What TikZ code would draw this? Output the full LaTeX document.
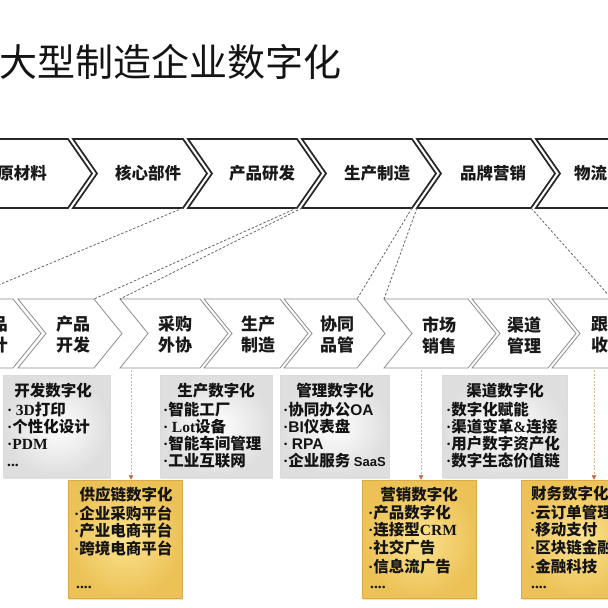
\documentclass[tikz,border=0pt]{standalone}
\usepackage{fontspec}
\usetikzlibrary{shadows,arrows.meta}
\setmainfont{Liberation Serif}
\newfontfamily\cjk{Noto Sans CJK SC}
\newfontfamily\latser{Liberation Serif}
\newfontfamily\latsans{Liberation Sans}
\newfontfamily\song{Noto Sans CJK SC}
\newcommand\lb{\latser\bfseries}
\newcommand\ls{\latsans\bfseries}
\newcommand\bul{{\latser\bfseries ·}}
\newcommand\fsz[2]{\fontsize{#1}{#2}\selectfont}
\definecolor{arrline}{HTML}{E2B48E}
\definecolor{arrhead}{HTML}{C46A40}
\definecolor{yin}{HTML}{FBE28E}
\definecolor{yout}{HTML}{ECC257}
\definecolor{yedge}{HTML}{D9AA45}
\newcommand\tchev[2]{\draw[topchev] (#1,139) -- (#2,139) -- ({#2+24},173.5) -- (#2,208) -- (#1,208) -- ({#1+24},173.5) -- cycle;}
\newcommand\bchev[2]{\draw[botchev] (#1,299) -- (#2,299) -- ({#2+28},333.5) -- (#2,368) -- (#1,368) -- ({#1+28},333.5) -- cycle;}
\begin{document}
\begin{tikzpicture}[x=1pt,y=-1pt,
  topchev/.style={draw=black!85, line width=1.7pt, fill=white, line join=miter},
  botchev/.style={draw=black!45, line width=0.8pt, fill=white, line join=miter},
  toptext/.style={font=\cjk\bfseries\fsz{16.5}{18}, text=black!90, inner sep=0pt},
  bottext/.style={font=\cjk\bfseries\fsz{17}{21}, text=black!90, align=center, inner sep=0pt},
  conn/.style={draw=black!60, line width=0.8pt, dash pattern=on 2.5pt off 1.8pt},
  darr/.style={draw=arrline, line width=0.7pt, dash pattern=on 2pt off 1.5pt,
     -{Triangle[length=4.5pt,width=4.5pt,fill=arrhead,color=arrhead]}},
  graybox/.style={draw=black!14, line width=0.4pt, inner color=white, outer color=black!13,
     drop shadow={opacity=0.22, shadow xshift=1.2pt, shadow yshift=-1.5pt}, inner sep=0pt},
  yelbox/.style={draw=yedge, line width=0.5pt, inner color=yin, outer color=yout,
     drop shadow={opacity=0.22, shadow xshift=1.2pt, shadow yshift=-1.5pt}, inner sep=0pt},
  btitle/.style={font=\song\bfseries\fsz{15.5}{17}, text=black!92, inner sep=0pt},
  bitem/.style={font=\song\bfseries\fsz{15.5}{17}, text=black!92, inner sep=0pt, anchor=west},
]
\useasboundingbox (0,0) rectangle (608,608);
\fill[white] (0,0) rectangle (608,608);
\clip (0,0) rectangle (608,608);

% title
\node[font=\cjk\fsz{38}{40}, text=black!92, anchor=west, inner sep=0pt] (title) at (-1,62) {大型制造企业数字化};

% top chevrons
\tchev{-60}{68}
\tchev{73}{183}
\tchev{188}{297}
\tchev{302}{412}
\tchev{417}{531}
\tchev{536}{660}
\node[toptext, anchor=east] (t1) at (47,173.5) {原材料};
\node[toptext] (t2) at (148,173.5) {核心部件};
\node[toptext] (t3) at (262,173.5) {产品研发};
\node[toptext] (t4) at (377,173.5) {生产制造};
\node[toptext] (t5) at (493,173.5) {品牌营销};
\node[toptext, anchor=west] (t6) at (574,173.5) {物流};

% bottom chevrons
\bchev{-70}{13}
\bchev{18}{94}
\bchev{120}{200}
\bchev{204}{280}
\bchev{284}{357}
\bchev{384}{468}
\bchev{472}{548}
\bchev{552}{612}
\node[bottext] (b1) at (-9,335) {产品\\设计};
\node[bottext] (b2) at (73,335) {产品\\开发};
\node[bottext] (b3) at (175,335) {采购\\外协};
\node[bottext] (b4) at (258,335) {生产\\制造};
\node[bottext] (b5) at (337,335) {协同\\品管};
\node[bottext] (b6) at (439,335) {市场\\销售};
\node[bottext] (b7) at (524,335) {渠道\\管理};
\node[bottext] (b8) at (608,335) {跟踪\\收款};

% connector end points
\coordinate (t2br) at (183,208);
\coordinate (t3br) at (297,208);
\coordinate (t4bl) at (302,208);
\coordinate (t4br) at (412,208);
\coordinate (t5bl) at (417,208);
\coordinate (t5br) at (531,208);
\coordinate (b1tl) at (-35,299);
\coordinate (b2tr) at (94,299);
\coordinate (b3tl) at (120,299);
\coordinate (b5tr) at (357,299);
\coordinate (b6tl) at (384,299);
\coordinate (b8tr) at (612,299);
\draw[conn] (t2br) -- (b1tl);
\draw[conn] (t3br) -- (b2tr);
\draw[conn] (t4bl) -- (b3tl);
\draw[conn] (t4br) -- (b5tr);
\draw[conn] (t5bl) -- (b6tl);
\draw[conn] (t5br) -- (b8tr);

% gray boxes
\node[graybox, minimum width=107pt, minimum height=102pt] (g1) at (56.5,426) {};
\node[graybox, minimum width=112pt, minimum height=102pt] (g2) at (216,426) {};
\node[graybox, minimum width=109pt, minimum height=102pt] (g3) at (334.5,426) {};
\node[graybox, minimum width=125pt, minimum height=102pt] (g4) at (504.5,426) {};

% yellow boxes
\node[yelbox, minimum width=114pt, minimum height=118pt] (y1) at (125,539) {};
\node[yelbox, minimum width=114pt, minimum height=118pt] (y2) at (419,539) {};
\node[yelbox, minimum width=119pt, minimum height=118pt] (y3) at (580.5,539) {};

% arrows
\coordinate (a1) at (131,370);
\coordinate (a2) at (421,370);
\coordinate (a3) at (594,370);
\draw[darr] (a1) -- (a1 |- y1.north);
\draw[darr] (a2) -- (a2 |- y2.north);
\draw[darr] (a3) -- (a3 |- y3.north);

% gray box texts
\node[btitle] (g1t) at (53,391) {开发数字化};
\node[bitem] (g1a) at (7,410) {\bul\ {\lb 3D}打印};
\node[bitem] (g1b) at (7,427) {\bul 个性化设计};
\node[bitem] (g1c) at (7,444) {\bul{\lb PDM}};
\node[bitem] (g1d) at (7,465) {{\lb ...}};

\node[btitle] (g2t) at (216,391) {生产数字化};
\node[bitem] (g2a) at (163,410) {\bul 智能工厂};
\node[bitem] (g2b) at (163,427) {\bul\ {\lb Lot}设备};
\node[bitem] (g2c) at (163,444) {\bul 智能车间管理};
\node[bitem] (g2d) at (163,461) {\bul 工业互联网};

\node[btitle] (g3t) at (335,391) {管理数字化};
\node[bitem] (g3a) at (283,410) {\bul 协同办公{\ls OA}};
\node[bitem] (g3b) at (283,427) {\bul{\ls BI}仪表盘};
\node[bitem] (g3c) at (283,444) {\bul\ {\ls RPA}};
\node[bitem] (g3d) at (283,461) {\bul 企业服务{\ls\fsz{13}{15} SaaS}};

\node[btitle] (g4t) at (505,391) {渠道数字化};
\node[bitem] (g4a) at (446,410) {\bul 数字化赋能};
\node[bitem] (g4b) at (446,427) {\bul 渠道变革{\lb\&}连接};
\node[bitem] (g4c) at (446,444) {\bul 用户数字资产化};
\node[bitem] (g4d) at (446,461) {\bul 数字生态价值链};

% yellow box texts
\node[btitle] (y1t) at (126,495) {供应链数字化};
\node[bitem] (y1a) at (74,513) {\bul 企业采购平台};
\node[bitem] (y1b) at (74,531) {\bul 产业电商平台};
\node[bitem] (y1c) at (74,548) {\bul 跨境电商平台};
\node[bitem] (y1d) at (76,587) {{\lb ....}};

\node[btitle] (y2t) at (419,495) {营销数字化};
\node[bitem] (y2a) at (368,513) {\bul 产品数字化};
\node[bitem] (y2b) at (368,530) {\bul 连接型{\lb CRM}};
\node[bitem] (y2c) at (368,548) {\bul 社交广告};
\node[bitem] (y2d) at (368,567) {\bul 信息流广告};
\node[bitem] (y2e) at (370,587) {{\lb ....}};

\node[btitle, anchor=west] (y3t) at (531,494) {财务数字化};
\node[bitem] (y3a) at (530,513) {\bul 云订单管理};
\node[bitem] (y3b) at (530,530) {\bul 移动支付};
\node[bitem] (y3c) at (530,548) {\bul 区块链金融};
\node[bitem] (y3d) at (530,567) {\bul 金融科技};
\node[bitem] (y3e) at (531,587) {{\lb ....}};
\end{tikzpicture}
\end{document}
